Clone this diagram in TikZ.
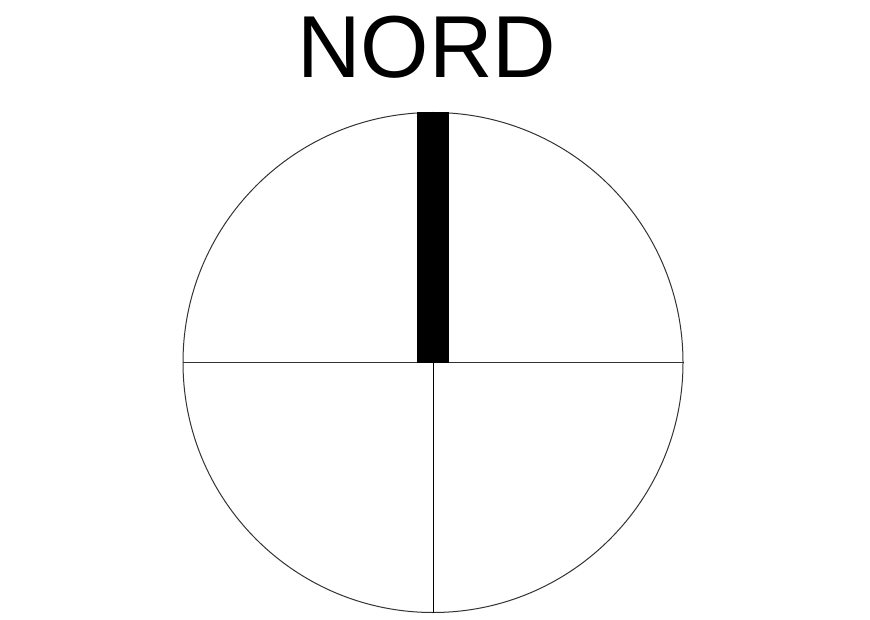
\documentclass[tikz,border=0pt]{standalone}
\usepackage{fontspec}
\setmainfont{Liberation Sans}
\begin{document}
\begin{tikzpicture}[x=1pt,y=-1pt,
  thinline/.style={line width=1pt,draw=black!80},
  titletext/.style={font=\fontsize{88}{88}\selectfont, inner sep=0pt, anchor=base}]
\useasboundingbox (0,0) rectangle (870,620);
\fill[white] (0,0) rectangle (870,620);
\node[titletext] (title) at (427,78) {NORD};
\node[circle, thinline, minimum size=500pt, inner sep=0pt] (c) at (433,362.5) {};
\draw[thinline] (c.west) -- (c.east);
\draw[line width=1pt] (c.center) -- (c.south);
\fill[black] (416.8,112.5) rectangle (449.3,362.5);
\end{tikzpicture}
\end{document}
